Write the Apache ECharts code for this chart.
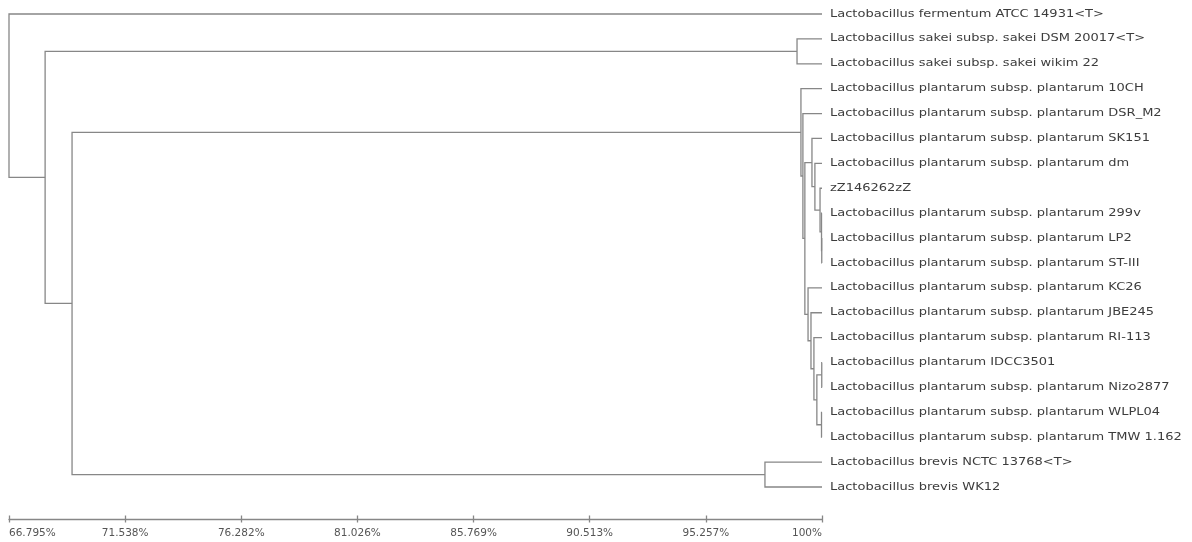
<!DOCTYPE html>
<html>
<head>
<meta charset="utf-8">
<script src="https://cdn.jsdelivr.net/npm/echarts@6/dist/echarts.min.js"></script>
<style>
  html, body { margin: 0; padding: 0; background: #ffffff; }
  #chart { width: 1192px; height: 542px; }
</style>
</head>
<body>
<div id="chart"></div>
<script>
// Strains, in the top-to-bottom order of the dendrogram leaves
const strains = [
  'Lactobacillus fermentum ATCC 14931<T>',
  'Lactobacillus sakei subsp. sakei DSM 20017<T>',
  'Lactobacillus sakei subsp. sakei wikim 22',
  'Lactobacillus plantarum subsp. plantarum 10CH',
  'Lactobacillus plantarum subsp. plantarum DSR_M2',
  'Lactobacillus plantarum subsp. plantarum SK151',
  'Lactobacillus plantarum subsp. plantarum dm',
  'zZ146262zZ',
  'Lactobacillus plantarum subsp. plantarum 299v',
  'Lactobacillus plantarum subsp. plantarum LP2',
  'Lactobacillus plantarum subsp. plantarum ST-III',
  'Lactobacillus plantarum subsp. plantarum KC26',
  'Lactobacillus plantarum subsp. plantarum JBE245',
  'Lactobacillus plantarum subsp. plantarum RI-113',
  'Lactobacillus plantarum IDCC3501',
  'Lactobacillus plantarum subsp. plantarum Nizo2877',
  'Lactobacillus plantarum subsp. plantarum WLPL04',
  'Lactobacillus plantarum subsp. plantarum TMW 1.162',
  'Lactobacillus brevis NCTC 13768<T>',
  'Lactobacillus brevis WK12'
];

// Cluster joins: [childA, childB, similarity %].
// Ids below strains.length are leaves; id strains.length + k is the k-th join.
const merges = [
  [9, 10, 99.99],   // 20  LP2 + ST-III
  [8, 20, 99.98],   // 21  299v
  [7, 21, 99.92],   // 22  zZ146262zZ
  [6, 22, 99.71],   // 23  dm
  [5, 23, 99.59],   // 24  SK151
  [14, 15, 99.99],  // 25  IDCC3501 + Nizo2877
  [16, 17, 99.98],  // 26  WLPL04 + TMW 1.162
  [25, 26, 99.79],  // 27
  [13, 27, 99.67],  // 28  RI-113
  [12, 28, 99.55],  // 29  JBE245
  [11, 29, 99.43],  // 30  KC26
  [24, 30, 99.30],  // 31
  [4, 31, 99.22],   // 32  DSR_M2
  [3, 32, 99.14],   // 33  10CH
  [1, 2, 98.98],    // 34  sakei pair
  [18, 19, 97.67],  // 35  brevis pair
  [33, 35, 69.37],  // 36  plantarum + brevis
  [34, 36, 68.27],  // 37  sakei + (plantarum, brevis)
  [0, 37, 66.795]   // 38  root with fermentum
];

// Similarity ticks on the scale bar
const tickValues = [66.795, 71.538, 76.282, 81.026, 85.769, 90.513, 95.257, 100];

// Node positions: leaves sit at 100 %, each join at its similarity and
// halfway between its two children vertically.
const nLeaves = strains.length;
const nodeX = [];
const nodeY = [];
for (let i = 0; i < nLeaves; i++) { nodeX[i] = 100; nodeY[i] = i; }
const branchData = [];
merges.forEach(function (m, k) {
  const id = nLeaves + k;
  const a = m[0], b = m[1], s = m[2];
  nodeX[id] = s;
  nodeY[id] = (nodeY[a] + nodeY[b]) / 2;
  // [xA, yA, join x, yB, xB]
  branchData.push([nodeX[a], nodeY[a], s, nodeY[b], nodeX[b]]);
});
const leafData = strains.map(function (name, i) { return [100, i]; });

const lineColor = '#878787';
const axisMin = tickValues[0];
const axisMax = tickValues[tickValues.length - 1];

const chart = echarts.init(document.getElementById('chart'), null, { renderer: 'canvas' });

chart.setOption({
  animation: false,
  backgroundColor: '#ffffff',
  grid: { left: 9, right: 370, top: 14, bottom: 55, containLabel: false, outerBoundsMode: 'none' },
  xAxis: [
    {
      type: 'value', min: axisMin, max: axisMax, position: 'bottom', offset: 32,
      splitLine: { show: false },
      axisLine: { show: true, onZero: false, lineStyle: { color: lineColor, width: 1.3 } },
      axisTick: { show: true, inside: false, length: 3.5, customValues: tickValues,
                  lineStyle: { color: lineColor, width: 1.3 } },
      axisLabel: {
        customValues: tickValues, showMinLabel: true, showMaxLabel: true,
        alignMinLabel: 'left', alignMaxLabel: 'right',
        margin: 9, color: '#555555', fontFamily: 'DejaVu Sans', fontSize: 10.5,
        formatter: function (v) { return v + '%'; }
      }
    },
    {
      type: 'value', min: axisMin, max: axisMax, position: 'bottom', offset: 32,
      splitLine: { show: false },
      axisLine: { show: false, onZero: false },
      axisTick: { show: true, inside: true, length: 3.5, customValues: tickValues,
                  lineStyle: { color: lineColor, width: 1.3 } },
      axisLabel: { show: false }
    }
  ],
  yAxis: { type: 'value', min: 0, max: nLeaves - 1, inverse: true, show: false },
  series: [
    {
      type: 'custom',
      data: branchData,
      dimensions: ['xa', 'ya', 'xj', 'yb', 'xb'],
      encode: { x: [0, 2, 4], y: [1, 3] },
      renderItem: function (params, api) {
        const pa = api.coord([api.value(0), api.value(1)]);
        const j1 = api.coord([api.value(2), api.value(1)]);
        const j2 = api.coord([api.value(2), api.value(3)]);
        const pb = api.coord([api.value(4), api.value(3)]);
        return {
          type: 'polyline',
          shape: { points: [pa, j1, j2, pb] },
          style: { stroke: lineColor, lineWidth: 1.3, fill: null }
        };
      },
      silent: true
    },
    {
      type: 'custom',
      data: leafData,
      encode: { x: 0, y: 1 },
      renderItem: function (params, api) {
        const p = api.coord([api.value(0), api.value(1)]);
        return {
          type: 'text',
          x: p[0] + 8,
          y: p[1],
          scaleX: 1.3,
          style: {
            text: strains[params.dataIndex],
            fill: '#3c3c3c',
            fontFamily: 'DejaVu Sans',
            fontSize: 10,
            align: 'left',
            verticalAlign: 'middle'
          }
        };
      },
      silent: true
    }
  ]
});
</script>
</body>
</html>
